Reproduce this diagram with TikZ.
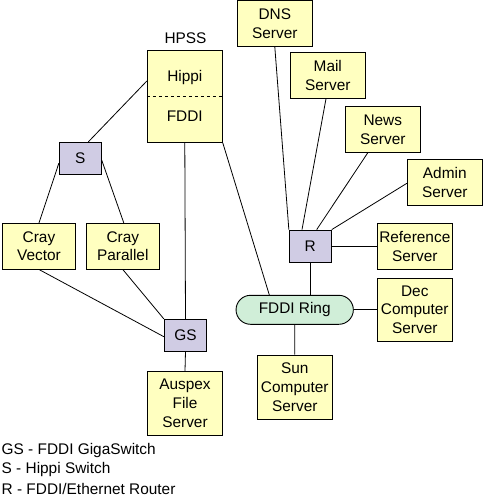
\documentclass[tikz,border=0pt]{standalone}
\usepackage{fontspec}
\setmainfont{Liberation Sans}
\usetikzlibrary{calc}
\definecolor{boxyellow}{HTML}{FFFFC0}
\definecolor{boxpurple}{HTML}{D0CCE4}
\definecolor{boxgreen}{HTML}{D0EED8}
\tikzset{
  base/.style={draw=black, line width=0.9pt, inner sep=0pt, align=center,
    font=\fontsize{15.4}{18.6}\selectfont},
  ybox/.style={base, fill=boxyellow, rectangle},
  pbox/.style={base, fill=boxpurple, rectangle},
  ring/.style={base, fill=boxgreen, rectangle, rounded corners=14.5pt},
  lbl/.style={inner sep=0pt, font=\fontsize{15.4}{18.6}\selectfont},
  link/.style={draw=black, line width=0.8pt}
}
\begin{document}
\begin{tikzpicture}[x=1pt, y=-1pt]
\useasboundingbox (0,0) rectangle (483,499);
% HPSS
\node[ybox, minimum width=75pt, minimum height=92pt] (hpss) at (184.8,96.3) {};
\draw[dashed, line width=0.7pt] (hpss.west) -- (hpss.east);
\node[lbl] (hippi) at (184.8,77.7) {Hippi};
\node[lbl] (fddi) at (184.8,115.7) {FDDI};
\node[lbl] (hpsslbl) at (185.5,38) {HPSS};
% left side
\node[pbox, minimum width=42pt, minimum height=31.7pt] (s) at (80.3,158.2) {S};
\node[ybox, minimum width=72.6pt, minimum height=45.7pt] (cv) at (39,246.2) {Cray\\Vector};
\node[ybox, minimum width=73pt, minimum height=45.7pt] (cp) at (122.8,246.2) {Cray\\Parallel};
\node[pbox, minimum width=42.4pt, minimum height=31.7pt] (gs) at (185.5,335.2) {GS};
\node[ybox, minimum width=74.6pt, minimum height=63.7pt] (auspex) at (185,403.2) {Auspex\\File\\Server};
% right side
\node[ybox, minimum width=75pt, minimum height=45.8pt] (dns) at (274.8,23.4) {DNS\\Server};
\node[ybox, minimum width=75pt, minimum height=46pt] (mail) at (327.8,75.3) {Mail\\Server};
\node[ybox, minimum width=75pt, minimum height=45.6pt] (news) at (382.8,129.5) {News\\Server};
\node[ybox, minimum width=75pt, minimum height=45.7pt] (admin) at (444.8,182.2) {Admin\\Server};
\node[pbox, minimum width=42pt, minimum height=32.3pt] (r) at (310.3,246.2) {R};
\node[ybox, minimum width=75pt, minimum height=46pt] (ref) at (414.8,246.3) {Reference\\Server};
\node[ring, minimum width=117.3pt, minimum height=29pt] (fring) at (294.7,309.8) {FDDI Ring};
\node[ybox, minimum width=75pt, minimum height=62.7pt] (dec) at (414.8,309.7) {Dec\\Computer\\Server};
\node[ybox, minimum width=75pt, minimum height=64.3pt] (sun) at (294.8,387.2) {Sun\\Computer\\Server};
% legend
\node[lbl, anchor=west] (leg1) at (1.5,451) {GS - FDDI GigaSwitch};
\node[lbl, anchor=west] (leg2) at (1.5,470) {S - Hippi Switch};
\node[lbl, anchor=west] (leg3) at (1.5,489) {R - FDDI/Ethernet Router};
% connectors
\draw[link] ([yshift=15.3pt]hpss.west) -- ([xshift=8pt]s.north);
\draw[link] ([yshift=-5pt]s.west) -- (cv.north);
\draw[link] ([yshift=-2pt]s.east) -- ([xshift=1pt]cp.north);
\draw[link] (cv.south) -- ([yshift=-1.5pt]gs.west);
\draw[link] (cp.south) -- (gs.north west);
\draw[link] (hpss.south) -- (gs.north);
\draw[link] (gs.south) -- (auspex.north);
\draw[link] (hpss.south east) -- ([xshift=-25.4pt]fring.north);
\draw[link] (dns.south) -- (r.north west);
\draw[link] ([xshift=-1.8pt]mail.south) -- ([xshift=-8.3pt]r.north);
\draw[link] ([xshift=-15pt]news.south) -- ([xshift=6.4pt]r.north);
\draw[link] ([yshift=-1.1pt]admin.west) -- (r.north east);
\draw[link] (r.east) -- (r.east -| ref.west);
\draw[link] (r.south) -- (r.south |- fring.north);
\draw[link] (fring.east) -- (fring.east -| dec.west);
\draw[link] (fring.south) -- (sun.north);
\end{tikzpicture}
\end{document}
